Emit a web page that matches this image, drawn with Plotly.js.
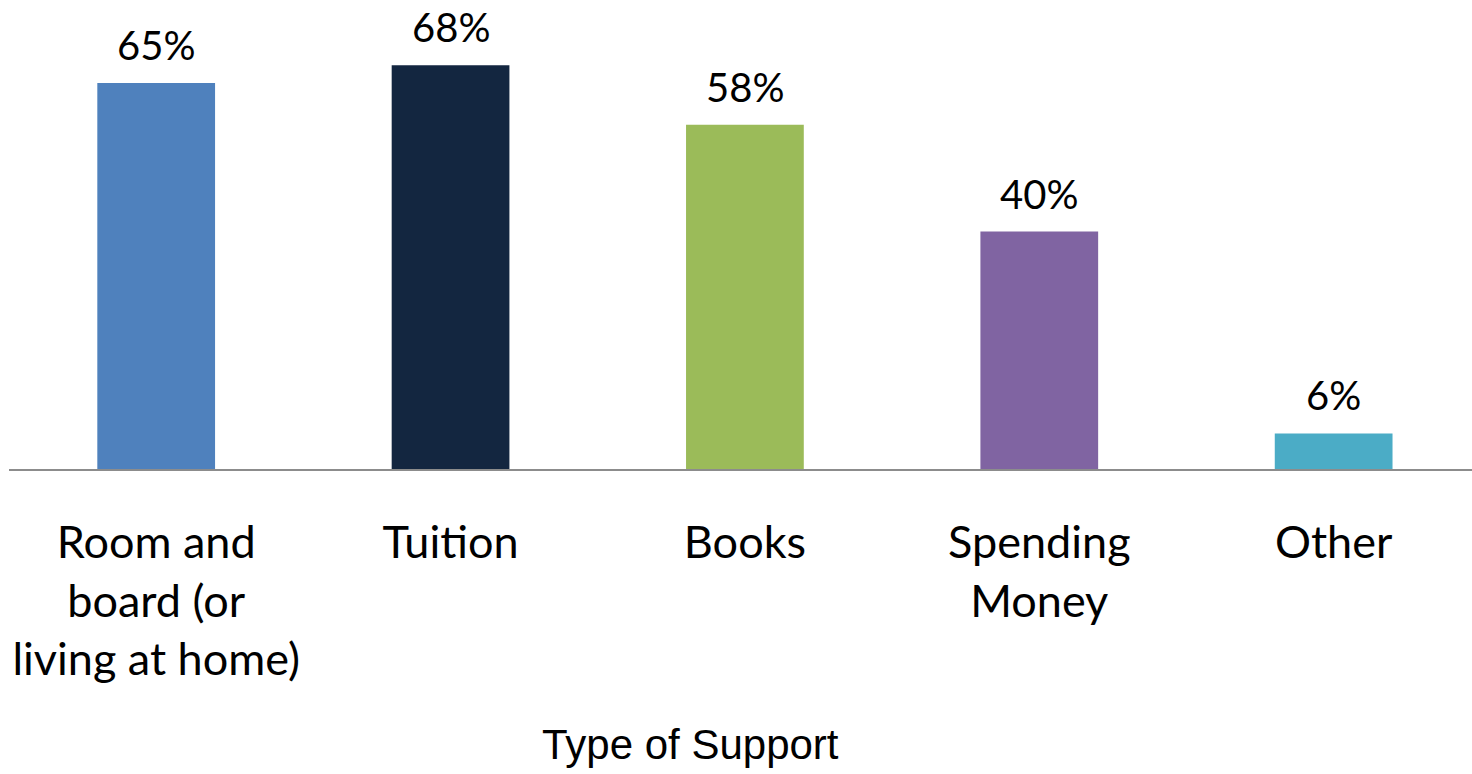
<!DOCTYPE html>
<html>
<head>
<meta charset="utf-8">
<script src="https://cdn.plot.ly/plotly-3.0.1.min.js"></script>
<style>html,body{margin:0;padding:0;background:#fff;}#chart{width:1472px;height:774px;}</style>
</head>
<body>
<div id="chart"></div>
<script>
const categories = ["Room and<br>board (or<br>living at home)", "Tuition", "Books", "Spending<br>Money", "Other"];
const values = [65, 68, 58, 40, 6];
const valueLabels = ["65%", "68%", "58%", "40%", "6%"];
const barColors = ["#4F81BD", "#132640", "#9BBB59", "#8064A2", "#4BACC6"];
const axisTitle = "Type of Support";

const trace = {
  type: "bar",
  x: categories,
  y: values,
  width: 0.4,
  marker: {color: barColors},
  hoverinfo: "none"
};

const annotations = categories.map((c, i) => ({
  x: c, y: values[i], xref: "x", yref: "y",
  text: valueLabels[i], showarrow: false,
  yanchor: "bottom", yshift: 12,
  font: {family: "Lato, sans-serif", size: 40, color: "#000"}
}));

annotations.push({
  x: 0.466, y: -0.588, xref: "paper", yref: "paper",
  xanchor: "center", yanchor: "middle",
  text: axisTitle, showarrow: false,
  font: {family: "Liberation Sans, Arial, sans-serif", size: 42, color: "#000"}
});

const layout = {
  width: 1472, height: 774,
  margin: {l: 9, r: 0, t: 0, b: 305},
  paper_bgcolor: "#fff", plot_bgcolor: "#fff",
  showlegend: false,
  xaxis: {
    type: "category",
    range: [-0.5, 4.47],
    showline: true, linecolor: "#8c8c8c", linewidth: 2,
    showgrid: false, zeroline: false, ticks: "",
    tickfont: {family: "Lato, sans-serif", size: 45, color: "#000"},
    ticklabelstandoff: 33,
    automargin: false,
    fixedrange: true
  },
  yaxis: {
    range: [0, 79],
    visible: false,
    showgrid: false, zeroline: false,
    fixedrange: true
  },
  annotations: annotations
};

Plotly.newPlot("chart", [trace], layout, {displayModeBar: false, staticPlot: true});
</script>
</body>
</html>
